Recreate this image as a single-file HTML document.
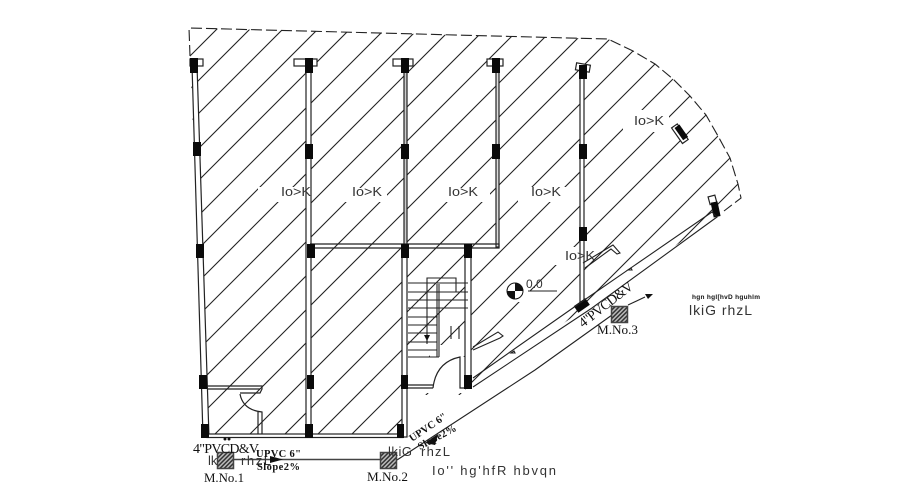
<!DOCTYPE html>
<html><head><meta charset="utf-8"><style>
html,body{margin:0;padding:0;background:#fff;width:900px;height:503px;overflow:hidden}
svg{display:block}
.s{font-family:"Liberation Serif",serif;fill:#111}
.l{font-family:"Liberation Sans",sans-serif;fill:#333}
</style></head><body>
<svg width="900" height="503" viewBox="0 0 900 503" xmlns="http://www.w3.org/2000/svg">
<defs>
<clipPath id="c"><polygon points="189,28 608,39 633,51 655,64 673,79 690,96 706,115 718,136 730,158 738,184 741,198 717,217 470,388 470,395 403,395 403,437 205,437"/></clipPath>
<pattern id="mh" width="3" height="3" patternUnits="userSpaceOnUse" patternTransform="rotate(45)"><rect width="3" height="3" fill="#bbb"/><rect width="1.5" height="3" fill="#333"/></pattern>
</defs>
<g clip-path="url(#c)" stroke="#222" stroke-width="1.1" fill="none">
<path d="M226 20L180 66M259 20L180 99M292 20L180 132M327 20L180 167M359 20L180 199M394 20L180 234M427 20L180 267M460 20L180 300M494 20L180 334M528 20L180 368M562 20L180 402M596 20L180 436M629 20L209 440M664 20L244 440M699 20L279 440M732 20L312 440M766 20L346 440M801 20L381 440M834 20L414 440M868 20L448 440M892 30L482 440"/>
</g>
<!-- masks -->
<g fill="#fff">
<rect x="258" y="187" width="52" height="15"/><rect x="327" y="188" width="60" height="14"/>
<rect x="430" y="188" width="60" height="14"/><rect x="518" y="187" width="48" height="15"/>
<rect x="623" y="110" width="46" height="22"/><rect x="553" y="247" width="28" height="18"/>
<rect x="408" y="357" width="57" height="36"/>
<rect x="430" y="345" width="30" height="14"/>
<rect x="510" y="280" width="20" height="22"/>
</g>
<path d="M190 56L189 28L608 39L633 51L655 64L673 79L690 96L706 115L718 136L730 158L738 184L741 198L724 211" fill="none" stroke="#222" stroke-width="1.100" stroke-dasharray="11 4"/>
<!-- walls -->
<g fill="#fff" stroke="#222" stroke-width="1.200">
<polygon points="192,65 197,65 209,437 203,437"/>
<rect x="306" y="65" width="5" height="372"/>
<rect x="404" y="65" width="3" height="180" fill="#ccc"/>
<rect x="402" y="245" width="5" height="192"/>
<rect x="465" y="245" width="6" height="143"/>
<rect x="496" y="65" width="3" height="182" fill="#ddd"/>
<rect x="580" y="70" width="4" height="237"/>
<rect x="207" y="434" width="196" height="3.5"/>
<path d="M310 244H499V248H470M310 248H465" fill="none"/>
<path d="M207 386H262V389L260 393H240M207 389H260" fill="none"/>
<path d="M240 394Q243 410 262 412V434M258 412V434" fill="none"/>
<path d="M408 385H433M408 388H433M433 388Q436 362 460 357V388H465" fill="none"/>
<rect x="190" y="59" width="13" height="7"/><rect x="294" y="59" width="23" height="7"/>
<rect x="393" y="59" width="20" height="7"/><rect x="487" y="59" width="16" height="7"/>
<rect x="576" y="64" width="14" height="7" transform="rotate(10 583 67)"/>
<rect x="676" y="124" width="7" height="19" transform="rotate(-35 680 133)"/>
<rect x="709" y="196" width="7" height="8" transform="rotate(-15 712 200)"/>
</g>
<!-- stairs -->
<g stroke="#222" stroke-width="1.100" fill="none">
<path d="M408 283H468M408 292H468M408 300H468M408 308H468M408 317H437M408 325H437M408 333H437M408 342H437M408 350H437M408 357H439"/>
<path d="M437 284V357M439 284V357M427 343V278H456V292"/>
<path d="M451 326V339M459 326V339"/>
<path d="M473 347L498 332L503 336L500 338L473 350M583 263L613 245L620 253L617 254L611 249L585 268"/>
<path d="M511 353l3-2l1 2zM628 270l3-2l1 2z"/>
</g>
<path d="M424 335h6l-3 6z" fill="#111"/><rect x="426.5" y="338" width="1" height="6" fill="#111"/>
<!-- columns -->
<g fill="#0a0a0a">
<rect x="190" y="58" width="8" height="15"/><rect x="193" y="142" width="8" height="14"/><rect x="196" y="244" width="8" height="14"/><rect x="199" y="375" width="8" height="14"/><rect x="201" y="424" width="8" height="14"/>
<rect x="305" y="58" width="8" height="15"/><rect x="305" y="144" width="8" height="15"/><rect x="307" y="244" width="8" height="14"/><rect x="307" y="375" width="7" height="14"/><rect x="305" y="424" width="8" height="14"/>
<rect x="401" y="58" width="8" height="15"/><rect x="401" y="144" width="8" height="15"/><rect x="401" y="244" width="8" height="14"/><rect x="401" y="375" width="7" height="14"/><rect x="397" y="424" width="7" height="14"/>
<rect x="492" y="58" width="8" height="15"/><rect x="492" y="144" width="8" height="15"/>
<rect x="464" y="244" width="8" height="14"/><rect x="464" y="375" width="8" height="14"/>
<rect x="579" y="65" width="8" height="14"/><rect x="579" y="144" width="8" height="15"/><rect x="579" y="227" width="8" height="14"/>
<rect x="575" y="302" width="14" height="8" transform="rotate(-35 581 306)"/>
<rect x="678" y="125" width="6" height="15" transform="rotate(-35 681 132)"/>
<rect x="712" y="202" width="7" height="15" transform="rotate(-12 715 209)"/>
</g>
<!-- boundary and pipes -->
<g fill="none" stroke="#222" stroke-width="1.100">
<path d="M473 378L580 303L712 212L717 217L592 308L473 387"/>
<path d="M397 460L535 370L612 315"/>
<path d="M628 305L645 297"/>
</g>
<path d="M234 459.500H380" stroke="#444" stroke-width="1.500" fill="none"/>
<path d="M270 456L283 459.500L270 463z" fill="#111"/>
<path d="M425 443L438 434L435 445z" fill="#111"/>
<path d="M645 294L653 294L648 299z" fill="#111"/>
<!-- manholes -->
<g stroke="#444" stroke-width="1.500" fill="url(#mh)">
<rect x="217.500" y="452.500" width="16" height="16"/><rect x="380.500" y="452.500" width="16" height="16"/><rect x="611.500" y="306.500" width="16" height="16"/>
</g>
<circle cx="225" cy="439" r="1.500" fill="#111"/><circle cx="229" cy="439" r="1.500" fill="#111"/>
<!-- level mark -->
<circle cx="515" cy="291" r="8" fill="#fff" stroke="#111" stroke-width="1"/>
<path d="M515 291V283A8 8 0 0 1 523 291ZM515 291V299A8 8 0 0 1 507 291Z" fill="#111"/>
<path d="M528 291H557" stroke="#222" fill="none"/>
<text class="l" x="526" y="288" font-size="12">0.0</text>
<!-- labels -->
<g class="l" font-size="13">
<text x="281" y="196" textLength="30" lengthAdjust="spacingAndGlyphs">Io&gt;K</text>
<text x="352" y="196" textLength="30" lengthAdjust="spacingAndGlyphs">Io&gt;K</text>
<text x="448" y="196" textLength="30" lengthAdjust="spacingAndGlyphs">Io&gt;K</text>
<text x="531" y="196" textLength="30" lengthAdjust="spacingAndGlyphs">Io&gt;K</text>
<text x="565" y="260" textLength="30" lengthAdjust="spacingAndGlyphs">Io&gt;K</text>
<text x="634" y="125" textLength="30" lengthAdjust="spacingAndGlyphs">Io&gt;K</text>
<text x="208" y="465">lk</text>
<text x="241" y="465" textLength="30">rhzL</text>
<text x="388" y="456" textLength="24">lkiG</text>
<text x="421" y="456" textLength="29">rhzL</text>
<text x="432" y="475" textLength="124">Io'' hg'hfR hbvqn</text>
<text x="689" y="315" font-size="14" textLength="63">lkiG rhzL</text>
<text x="692" y="299" font-size="6.500" font-weight="bold" textLength="68" style="fill:#111">hgn hgl[hvD hguhlm</text>
</g>
<g class="s">
<text x="193" y="453" font-size="14" textLength="66">4"PVCD&amp;V</text>
<text x="256" y="457" font-size="10.500" font-weight="bold" textLength="45">UPVC 6"</text>
<text x="257" y="470" font-size="10.500" font-weight="bold" textLength="43">Slope2%</text>
<text x="204" y="482" font-size="13" textLength="40" lengthAdjust="spacingAndGlyphs">M.No.1</text>
<text x="367" y="481" font-size="13" textLength="41" lengthAdjust="spacingAndGlyphs">M.No.2</text>
<text x="597" y="334" font-size="13" textLength="41" lengthAdjust="spacingAndGlyphs">M.No.3</text>
<text transform="translate(412,442) rotate(-34)" font-size="10.500" font-weight="bold" textLength="43">UPVC 6"</text>
<text transform="translate(420,450) rotate(-28)" font-size="10.500" font-weight="bold" textLength="42">Slope2%</text>
<text transform="translate(583,328) rotate(-38)" font-size="14" textLength="65">4"PVCD&amp;V</text>
</g>
</svg>
</body></html>
